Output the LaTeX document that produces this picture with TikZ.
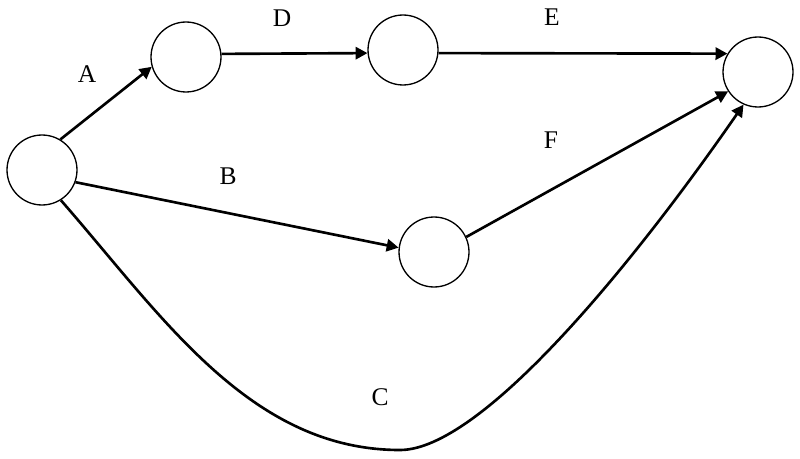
\documentclass[tikz,border=0pt]{standalone}
\usepackage{fontspec}
\setmainfont{Liberation Serif}
\usetikzlibrary{arrows.meta}
\tikzset{
  event/.style={circle, draw, line width=0.75pt, minimum size=1.4cm, inner sep=0pt},
  activity/.style={line width=1.5pt, -{Triangle[length=6.8pt,width=7pt]}},
  tag/.style={font=\fontsize{14.5}{17}\selectfont, inner sep=0pt}
}
\begin{document}
\begin{tikzpicture}[x=0.02cm,y=-0.02cm]
                    \useasboundingbox (0,0) rectangle (800,459);
                    \node[event] (n1) at (42,170) {};
                    \node[event] (n2) at (186,57) {};
                    \node[event] (n3) at (403,50) {};
                    \node[event] (n4) at (434,252) {};
                    \node[event] (n5) at (758,72) {};
                    \coordinate (cbot) at (400,450);

                    \draw[activity] (n1.59) -- (n2.196);
                    \draw[activity] (n2.5) -- (n3.185);
                    \draw[activity] (n3.355) -- (n5.149);
                    \draw[activity] (n1.340) -- (n4.173);
                    \draw[activity] (n4.25) -- (n5.213);
                    \draw[activity] (n1.302) .. controls (162,316) and (250,450) .. (cbot)
                                              .. controls (480,450) and (629,270) .. (n5.246);

                    \node[tag] (la) at (87,74) {A};
                    \node[tag] (lb) at (228,176) {B};
                    \node[tag] (lc) at (380,397) {C};
                    \node[tag] (ld) at (282,18) {D};
                    \node[tag] (le) at (552,17) {E};
                    \node[tag] (lf) at (551,140) {F};
                    % \node[tag] (lg) at (600,300) {G};
                \end{tikzpicture}
\end{document}
